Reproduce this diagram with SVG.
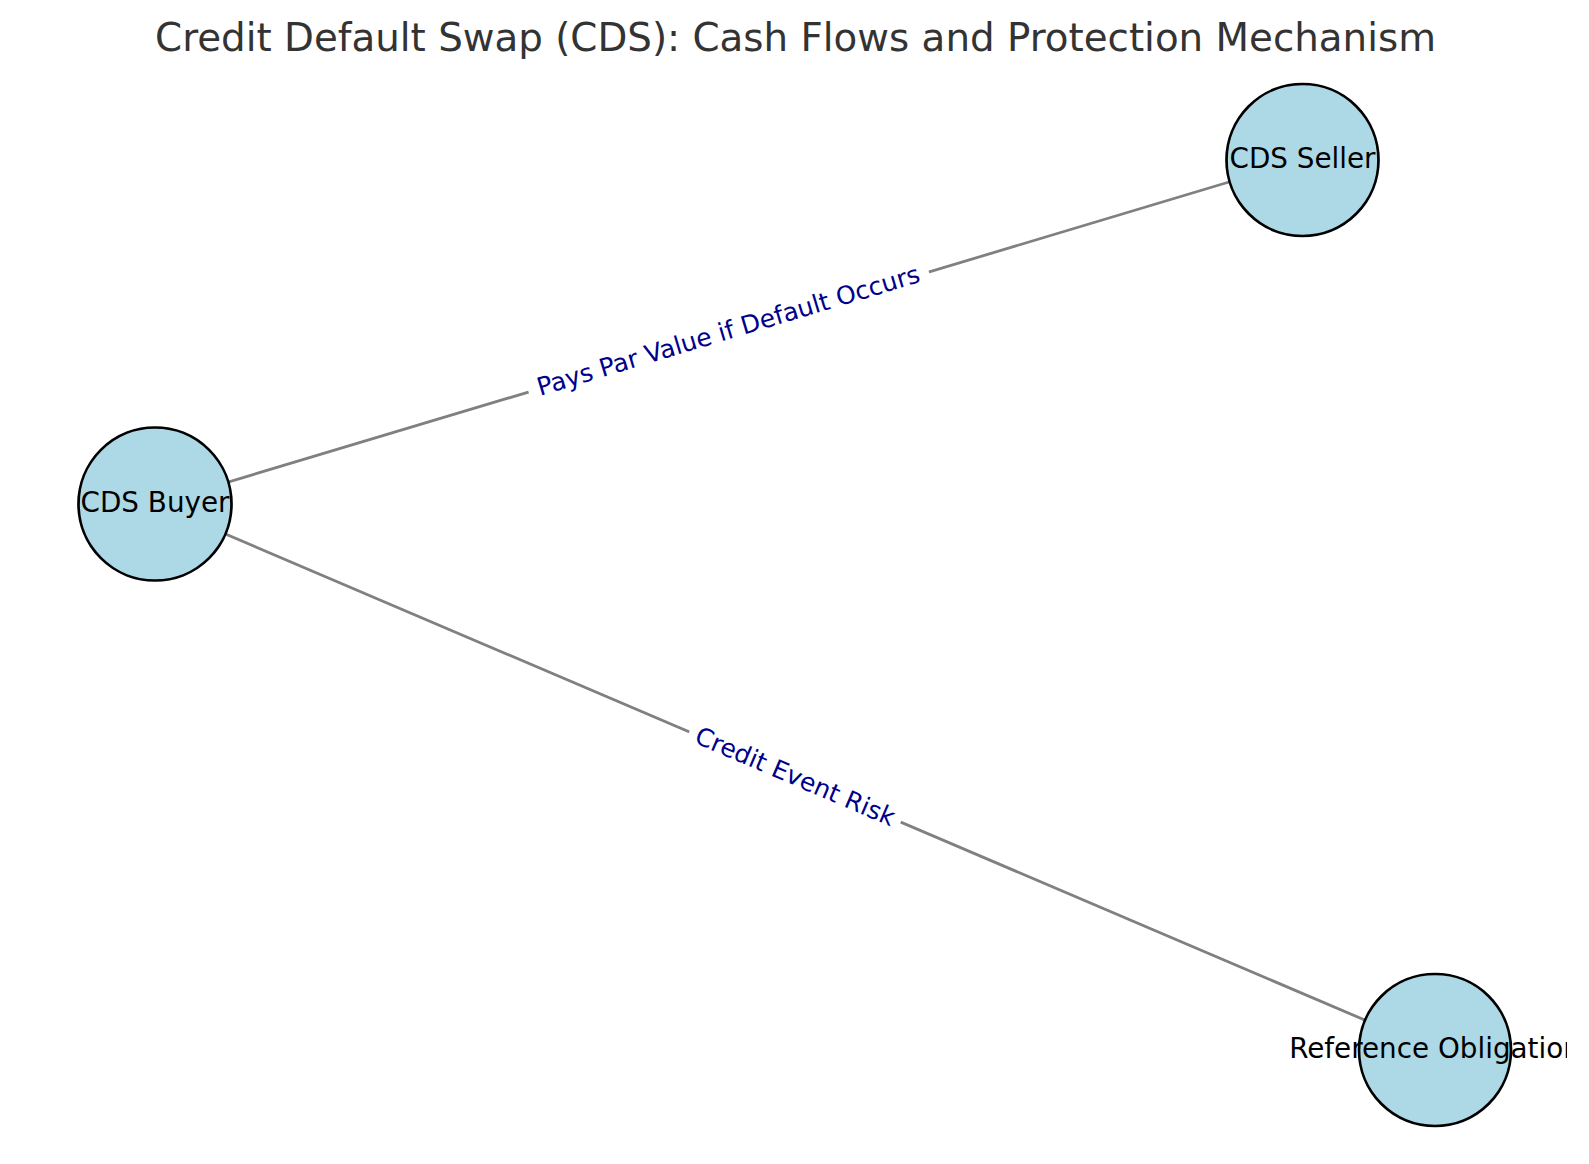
<svg xmlns="http://www.w3.org/2000/svg" width="1589" height="1164" viewBox="0 0 1589 1164">
<style>
.edge{stroke:#808080;stroke-width:2.8;fill:none}
.node{fill:#ADD8E6;stroke:#000;stroke-width:2.7}
.nl{font-family:"DejaVu Sans",sans-serif;font-size:27.8px;fill:#000;text-anchor:middle}
.el{font-family:"DejaVu Sans",sans-serif;font-size:25px;fill:#00008B;text-anchor:middle}
.title{font-family:"DejaVu Sans",sans-serif;font-size:38.8px;fill:#333333;text-anchor:middle}
</style>
<defs><clipPath id="fig"><rect x="0" y="0" width="1567" height="1164"/></clipPath></defs>
<rect width="1589" height="1164" fill="#fff"/>
<text class="title" x="795.5" y="51">Credit Default Swap (CDS): Cash Flows and Protection Mechanism</text>
<g id="connectors">
<line class="edge" x1="155" y1="504" x2="1302.5" y2="160"/>
<line class="edge" x1="155" y1="504" x2="1435" y2="1050"/>
<g transform="translate(728.75,332) rotate(-16.69)">
<rect x="-209" y="-17" width="418" height="34" fill="#fff"/>
<text class="el" x="0" y="7">Pays Par Value if Default Occurs</text>
</g>
<g transform="translate(795,777) rotate(23.1)">
<rect x="-115" y="-17" width="230" height="34" fill="#fff"/>
<text class="el" x="0" y="8">Credit Event Risk</text>
</g>
</g>
<g id="node-seller">
<circle class="node" cx="1302.5" cy="160" r="76"/>
<text class="nl" x="1302.5" y="168">CDS Seller</text>
</g>
<g id="node-buyer">
<circle class="node" cx="155" cy="504" r="76.5"/>
<text class="nl" x="155" y="512">CDS Buyer</text>
</g>
<g id="node-reference" clip-path="url(#fig)">
<circle class="node" cx="1435" cy="1050" r="76"/>
<text class="nl" x="1435" y="1058">Reference Obligation</text>
</g>
</svg>
